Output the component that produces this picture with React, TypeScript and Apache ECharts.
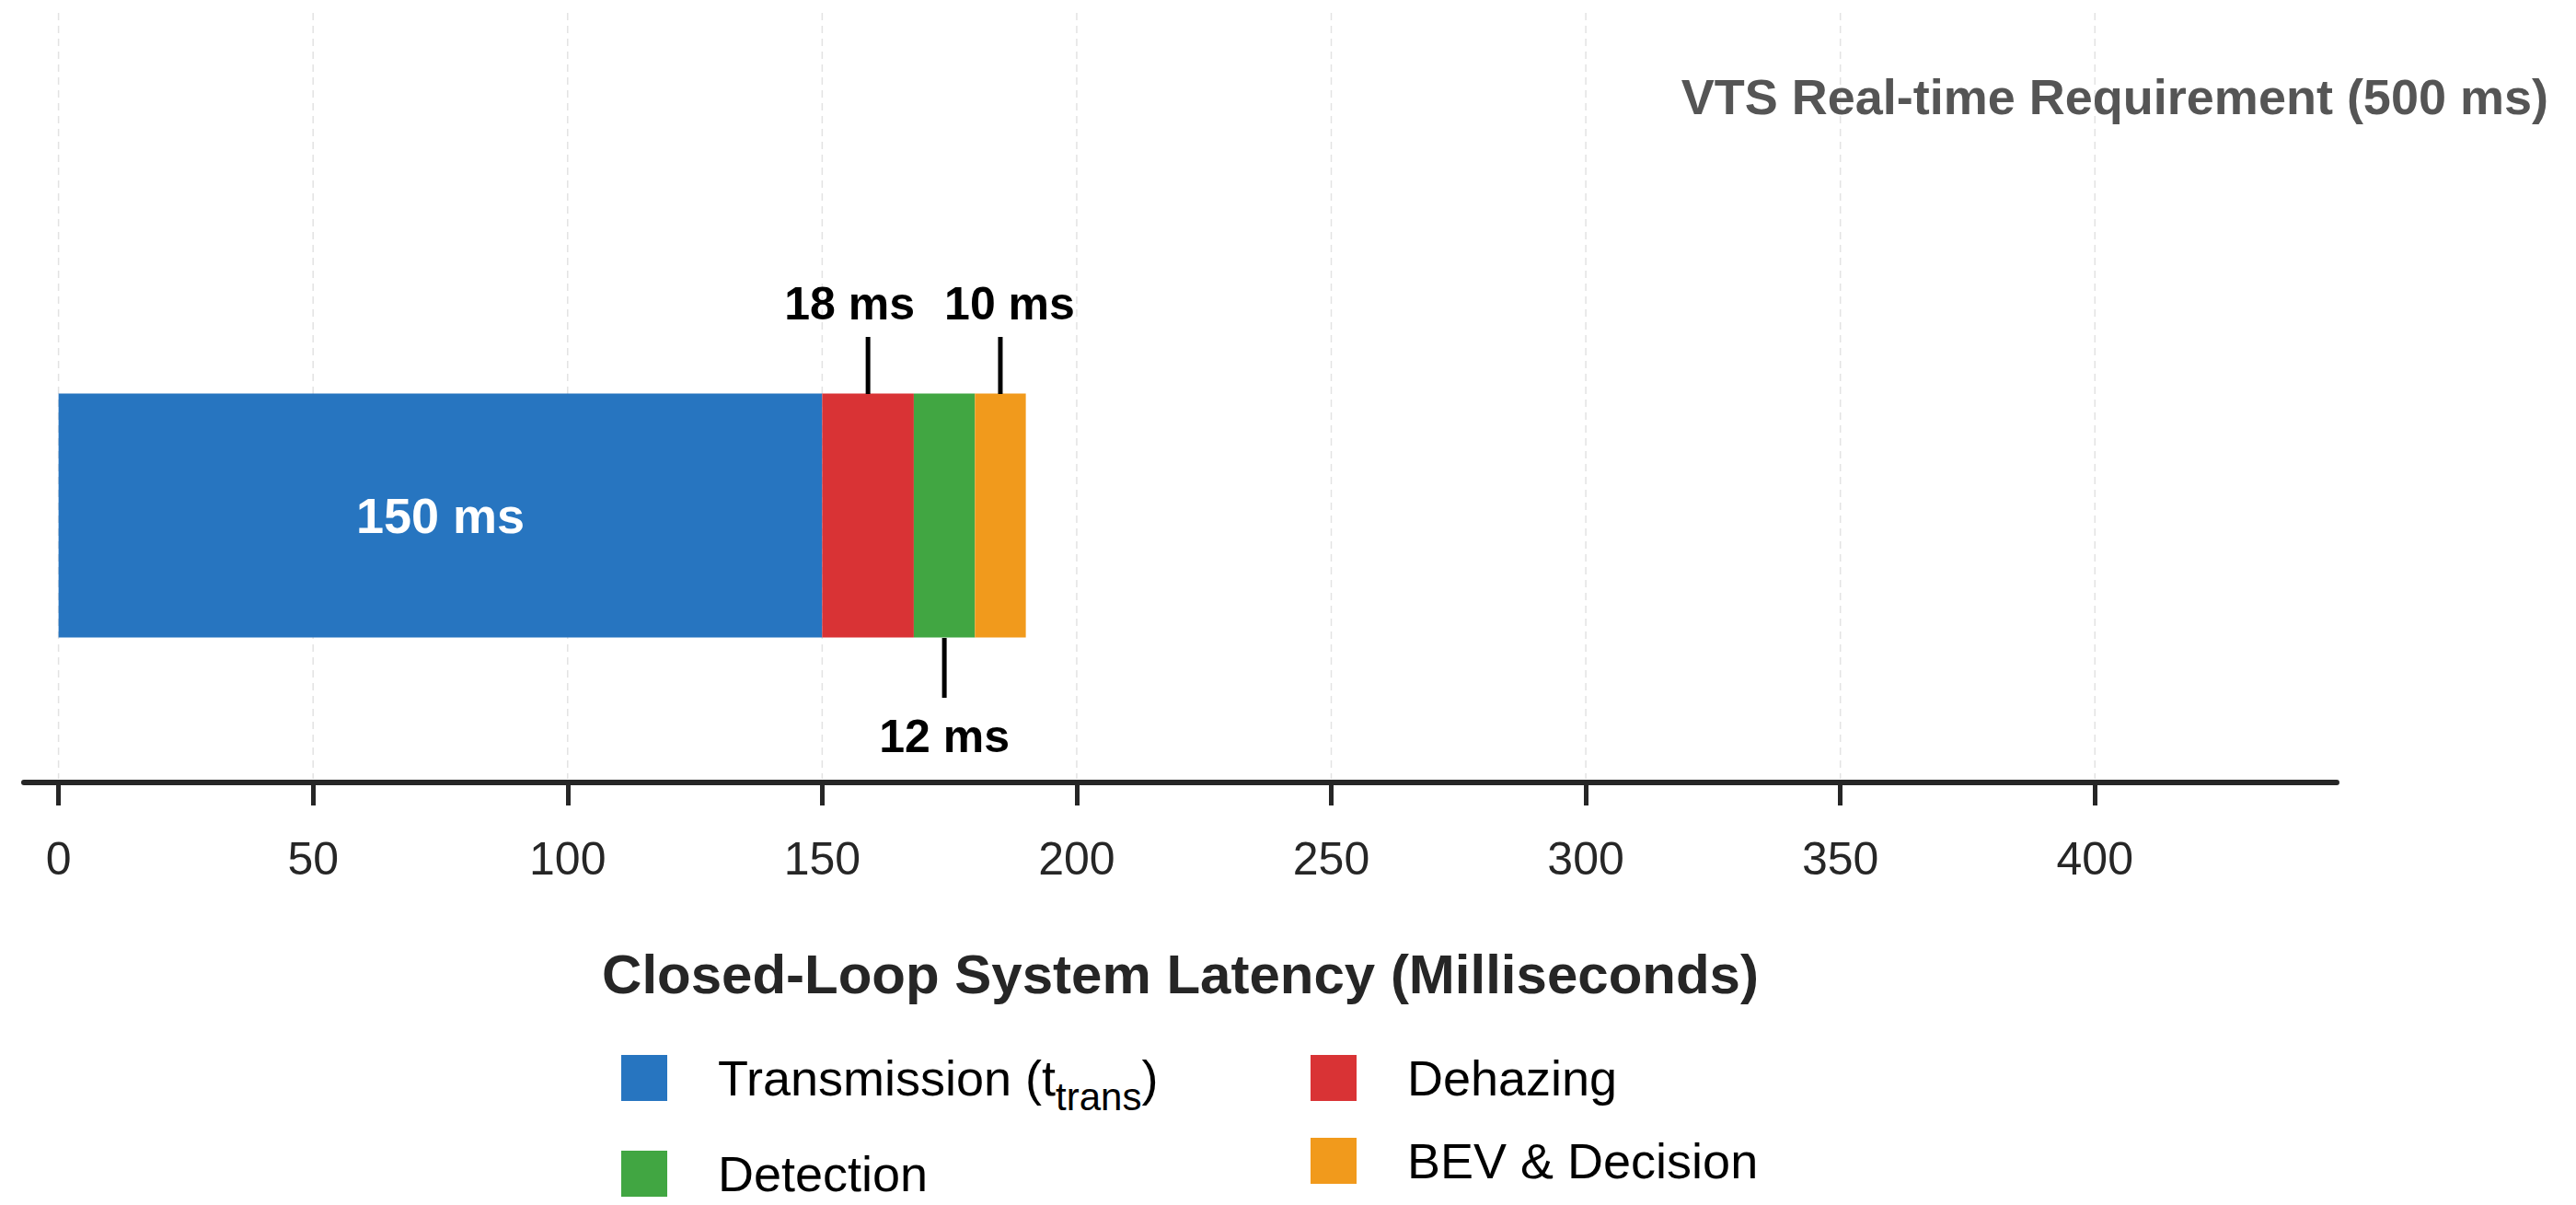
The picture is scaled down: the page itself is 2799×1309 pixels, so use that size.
import React, { useEffect, useRef } from "react";
import * as echarts from "echarts";

const stages = ["Transmission", "Dehazing", "Detection", "BEV & Decision"];
const latencies = [150, 18, 12, 10];
const colors = ["#2775c0", "#d93335", "#41a642", "#f19a1c"];
const tickValues = [0, 50, 100, 150, 200, 250, 300, 350, 400];
const FONT = "Liberation Sans";

const App = () => {
  const ref = useRef<HTMLDivElement>(null);

  useEffect(() => {
    if (!ref.current) return;
    const chart = echarts.init(ref.current, null, { renderer: "svg" });

    const series: any[] = stages.map((name, i) => ({
      name,
      type: "bar",
      stack: "total",
      barWidth: 265,
      data: [latencies[i]],
      itemStyle: { color: colors[i] },
      label:
        i === 0
          ? { show: true, position: "inside", formatter: "150 ms", color: "#fff", fontSize: 54, fontWeight: "bold", fontFamily: FONT }
          : { show: false },
    }));

    chart.setOption({
      animation: false,
      backgroundColor: "#fff",
      textStyle: { fontFamily: FONT },
      grid: { left: 26, right: 2799 - 2539, top: 270, bottom: 1309 - 850 },
      xAxis: {
        type: "value",
        min: -6.8,
        max: 447.5,
        name: "Closed-Loop System Latency (Milliseconds)",
        nameLocation: "middle",
        nameGap: 178,
        nameTextStyle: { fontSize: 60, fontWeight: "bold", color: "#262626", fontFamily: FONT },
        axisLine: { show: true, lineStyle: { color: "#262626", width: 6 } },
        axisTick: { show: true, customValues: tickValues, length: 25, lineStyle: { color: "#262626", width: 5 } },
        axisLabel: { customValues: tickValues, fontSize: 50, color: "#262626", margin: 58, fontFamily: FONT },
        splitLine: { show: false },
      },
      yAxis: { type: "category", data: ["Latency"], show: false },
      legend: [
        {
          data: [stages[0], stages[2]],
          orient: "vertical",
          left: 670,
          top: 1139,
          itemWidth: 50,
          itemHeight: 50,
          itemGap: 36,
          icon: "rect",
          formatter: (n: string) => (n === "Transmission" ? "Transmission (t{sub|trans})" : n),
          textStyle: {
            fontSize: 54,
            color: "#000",
            fontFamily: FONT,
            padding: [0, 0, 0, 50],
            rich: { sub: { fontSize: 42, padding: [40, 0, 0, 0], fontFamily: FONT, color: "#000" } },
          },
        },
        {
          data: [stages[1], stages[3]],
          orient: "vertical",
          left: 1419,
          top: 1139,
          itemWidth: 50,
          itemHeight: 50,
          itemGap: 36,
          icon: "rect",
          textStyle: { fontSize: 54, color: "#000", fontFamily: FONT, padding: [0, 0, 0, 50] },
        },
      ],
      series,
    });

    // annotations positioned through the axes
    const px = (x: number) => chart.convertToPixel({ xAxisIndex: 0 }, x) as number;
    const elements: any[] = [];
    tickValues.forEach((v) => {
      elements.push({
        type: "line",
        z: 0,
        silent: true,
        shape: { x1: px(v), y1: 0, x2: px(v), y2: 846 },
        style: { stroke: "#e3e3e3", lineWidth: 1.5, lineDash: [8, 6] },
      });
    });
    const dehazeMid = px(latencies[0] + latencies[1] / 2);
    const detMid = px(latencies[0] + latencies[1] + latencies[2] / 2);
    const bevMid = px(latencies[0] + latencies[1] + latencies[2] + latencies[3] / 2);
    const lineStyle = { stroke: "#000", lineWidth: 5 };
    const labStyle = (t: string, x: number, y: number) => ({
      type: "text",
      z: 10,
      x,
      y,
      style: { text: t, fontSize: 50, fontWeight: "bold", fill: "#000", fontFamily: FONT, align: "center", verticalAlign: "middle" },
    });
    elements.push(
      { type: "line", z: 10, shape: { x1: dehazeMid, y1: 366, x2: dehazeMid, y2: 428 }, style: lineStyle },
      { type: "line", z: 10, shape: { x1: bevMid, y1: 366, x2: bevMid, y2: 428 }, style: lineStyle },
      { type: "line", z: 10, shape: { x1: detMid, y1: 693, x2: detMid, y2: 758 }, style: lineStyle },
      labStyle("18 ms", dehazeMid - 20, 330),
      labStyle("10 ms", bevMid + 10, 330),
      labStyle("12 ms", detMid, 800),
      {
        type: "text",
        z: 10,
        right: 30,
        top: 78,
        style: { text: "VTS Real-time Requirement (500 ms)", fontSize: 54, fontWeight: "bold", fill: "#555555", fontFamily: FONT },
      }
    );
    chart.setOption({ graphic: { elements } });

    return () => chart.dispose();
  }, []);

  return <div ref={ref} style={{ width: 2799, height: 1309, margin: -8 }} />;
};

export default App;
